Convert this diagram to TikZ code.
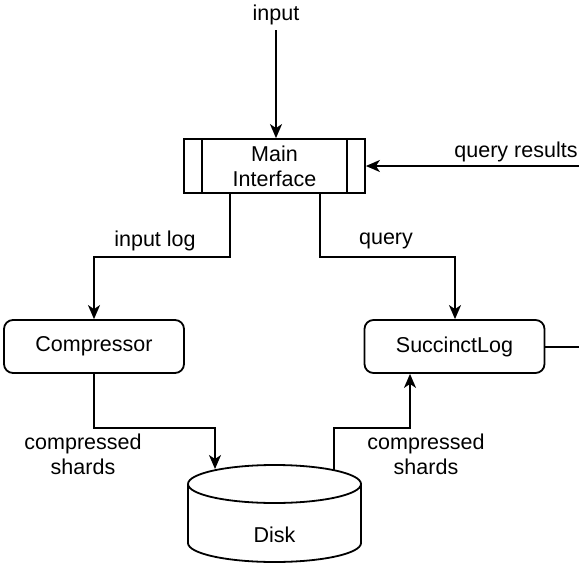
\documentclass[tikz,border=0pt]{standalone}
\usepackage{fontspec}
\setmainfont{Liberation Sans}
\usetikzlibrary{arrows.meta}
\begin{document}
\begin{tikzpicture}[x=1pt,y=-1pt,
  every node/.style={font=\fontsize{21.5}{25}\selectfont, inner sep=0pt},
  box/.style={draw, line width=1.8pt, rounded corners=9pt, minimum width=180pt, minimum height=53pt},
  proc/.style={draw, line width=1.8pt, minimum width=181pt, minimum height=54pt, align=center},
  lbl/.style={align=center},
  conn/.style={line width=1.8pt},
  arr/.style={conn, -{Stealth[length=14pt,width=12pt,inset=4pt]}}]
\useasboundingbox (0,0) rectangle (579,573);
% nodes
\node[proc] (main) at (274.5,166) {Main\\Interface};
\draw[line width=1.8pt] (202,139) -- (202,193) (347,139) -- (347,193);
\node[box] (comp) at (94,346.5) {Compressor};
\node[box] (succ) at (454.5,346.5) {SuccinctLog};
\node (disk) [minimum width=173pt, minimum height=97pt] at (274.5,513.5) {};
\draw[line width=1.8pt] (188,484) -- (188,543) arc[x radius=86.5, y radius=19, start angle=180, end angle=0] -- (361,484);
\draw[line width=1.8pt] (274.5,484) ellipse[x radius=86.5, y radius=19];
\node at (274.5,535) {Disk};
% labels
\node (in) at (276,15) {input};
\node (qr) at (516,152) {query results};
\node[lbl] at (155,241) {input log};
\node[lbl] at (386,241) {query};
\node[lbl] at (83,454) {compressed\\shards};
\node[lbl] at (426,454) {compressed\\shards};
% coordinates
\coordinate (inTop) at (276,30);
\coordinate (qrR) at (579,166);
\coordinate (succR) at (579,347);
\coordinate (diskIn) at (215,469);
\coordinate (diskOut) at (334,470);
% connectors
\draw[arr] (inTop) -- (main.north -| inTop);
\draw[arr] (qrR) -- (main.east |- qrR);
\draw[arr] (main.south -| 230,0) -- (230,257) -- (94,257) -- (comp.north);
\draw[arr] (main.south -| 320,0) -- (320,257) -- (455,257) -- (succ.north -| 455,0);
\draw[conn] (succ.east |- succR) -- (succR);
\draw[arr] (comp.south) -- (94,428) -- (215,428) -- (diskIn);
\draw[arr] (diskOut) -- (334,428) -- (410,428) -- (succ.south -| 410,0);
\end{tikzpicture}
\end{document}
